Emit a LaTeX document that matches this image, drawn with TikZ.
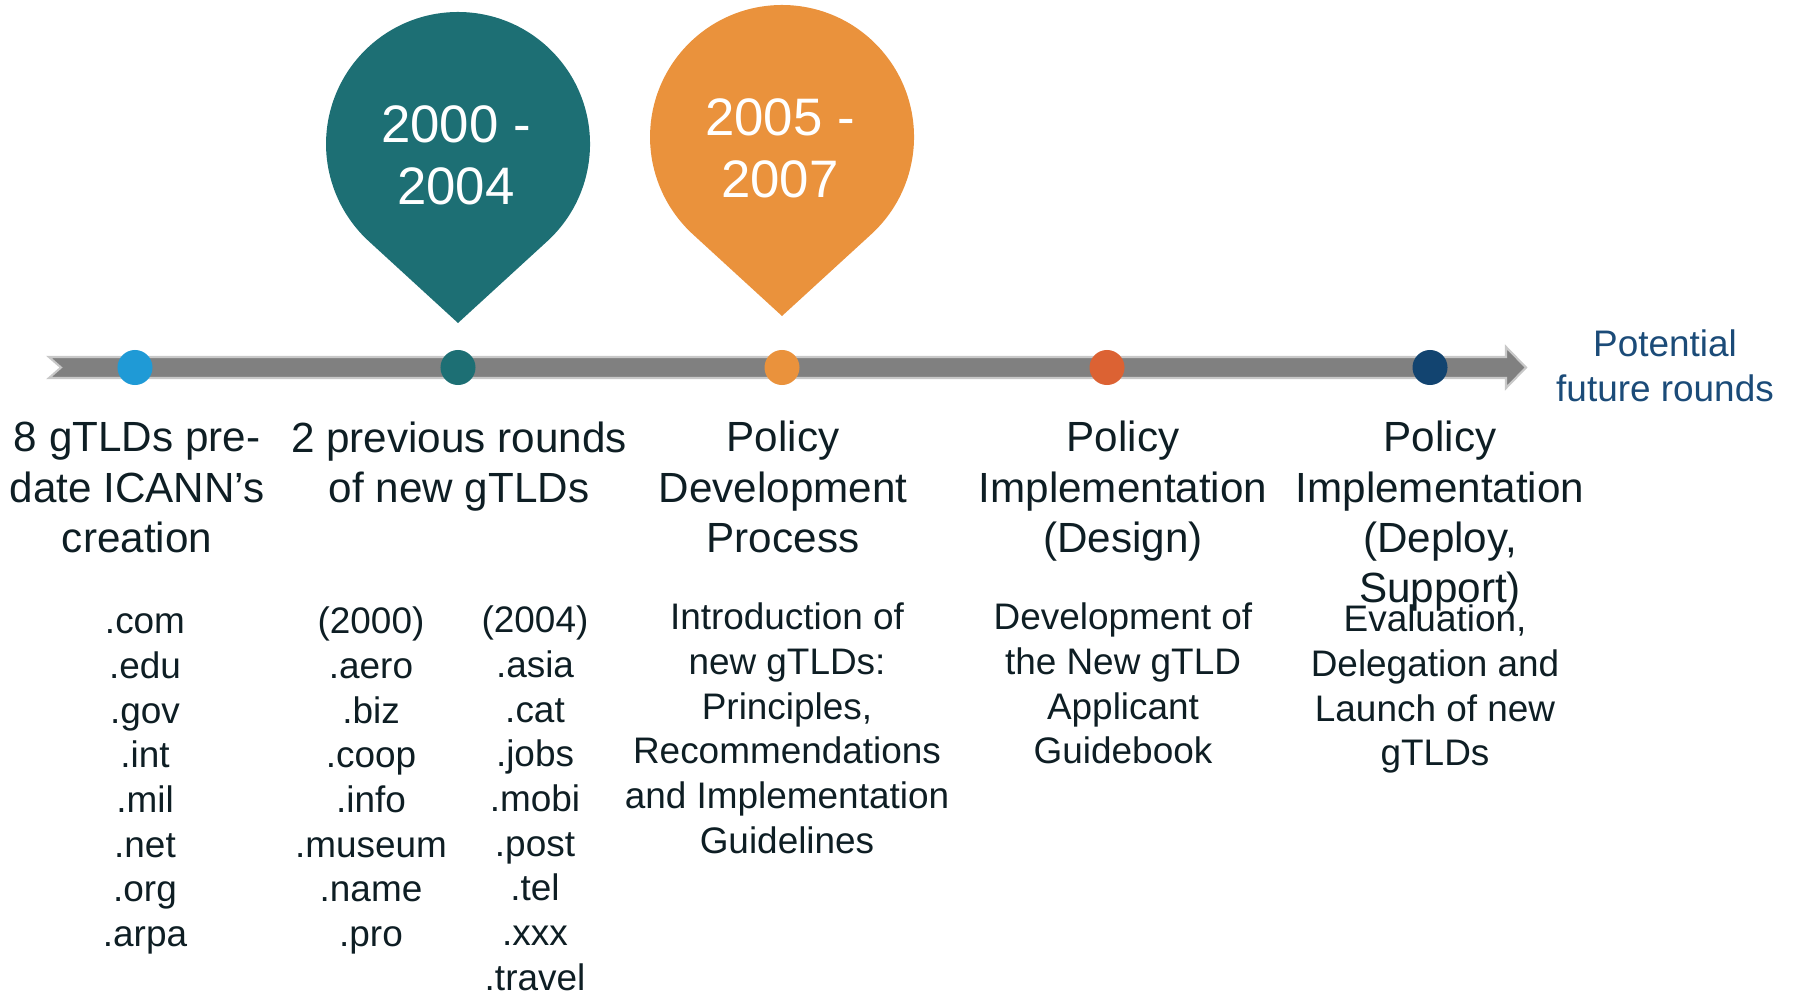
\documentclass[tikz,border=0pt]{standalone}
\usepackage{fontspec}
\setmainfont{Liberation Sans}
\definecolor{ink}{RGB}{14,30,36}
\definecolor{barfill}{RGB}{128,128,128}
\definecolor{barline}{RGB}{200,200,200}
\definecolor{dotblue}{RGB}{31,154,214}
\definecolor{pinteal}{RGB}{29,111,116}
\definecolor{pinorange}{RGB}{234,146,60}
\definecolor{dotred}{RGB}{220,98,51}
\definecolor{dotnavy}{RGB}{18,68,112}
\definecolor{futureblue}{RGB}{27,75,120}

\begin{document}
\begin{tikzpicture}[x=0.01cm,y=0.01cm,
	dot/.style={circle,inner sep=0pt,minimum size=0.35cm},
	title/.style={align=center,anchor=base,text=ink,font=\fontsize{12}{14.3}\selectfont},
	detail/.style={align=center,anchor=base,text=ink,font=\fontsize{10.5}{12.7}\selectfont},
	year/.style={align=center,anchor=base,text=white,font=\fontsize{15}{17.9}\selectfont}]
	\path[use as bounding box] (0,0) rectangle (1794,-994);
	% timeline
	\fill[barfill,draw=barline,line width=0.6pt] (49,-357) -- (1506,-357) -- (1506,-347) -- (1526,-367.5) -- (1506,-388) -- (1506,-378) -- (49,-378) -- (61,-367.5) -- cycle;
	\node[dot,fill=dotblue] (d1) at (135,-367.5) {};
	\node[dot,fill=pinteal] (d2) at (458,-367.5) {};
	\node[dot,fill=pinorange] (d3) at (782,-367.5) {};
	\node[dot,fill=dotred] (d4) at (1107,-367.5) {};
	\node[dot,fill=dotnavy] (d5) at (1430,-367.5) {};
	% pins (anchor base = last line)
	\fill[pinteal] (458,-323) -- (547.2,-241.3) arc[start angle=-47.5,end angle=227.5,radius=132] -- cycle;
	\fill[pinorange] (782,-316) -- (871.2,-234.3) arc[start angle=-47.5,end angle=227.5,radius=132] -- cycle;
	\node[year] (y1) at (456,-205) {2000 -\\2004};
	\node[year] (y2) at (780,-198) {2005 -\\2007};
	% titles
	\node[title] (t1) at (137,-552.5) {8 gTLDs pre-\\date ICANN’s\\creation};
	\node[title] (t2) at (459,-502.3) {2 previous rounds\\of new gTLDs};
	\node[title] (t3) at (783,-552.5) {Policy\\Development\\Process};
	\node[title] (t4) at (1123,-552.5) {Policy\\Implementation\\(Design)};
	\node[title] (t5) at (1440,-602.8) {Policy\\Implementation\\(Deploy,\\Support)};
	\node[detail,text=futureblue] (fut) at (1665,-401.6) {Potential\\future rounds};
	% details
	\node[detail] (l1) at (145,-946.5) {.com\\.edu\\.gov\\.int\\.mil\\.net\\.org\\.arpa};
	\node[detail] (l2) at (371,-946.5) {(2000)\\.aero\\.biz\\.coop\\.info\\.museum\\.name\\.pro};
	\node[detail] (l3) at (535,-990) {(2004)\\.asia\\.cat\\.jobs\\.mobi\\.post\\.tel\\.xxx\\.travel};
	\node[detail] (n3) at (787,-853.2) {Introduction of\\new gTLDs:\\Principles,\\Recommendations\\and Implementation\\Guidelines};
	\node[detail] (n4) at (1123,-763.9) {Development of\\the New gTLD\\Applicant\\Guidebook};
	\node[detail] (n5) at (1435,-765.9) {Evaluation,\\Delegation and\\Launch of new\\gTLDs};
\end{tikzpicture}
\end{document}
